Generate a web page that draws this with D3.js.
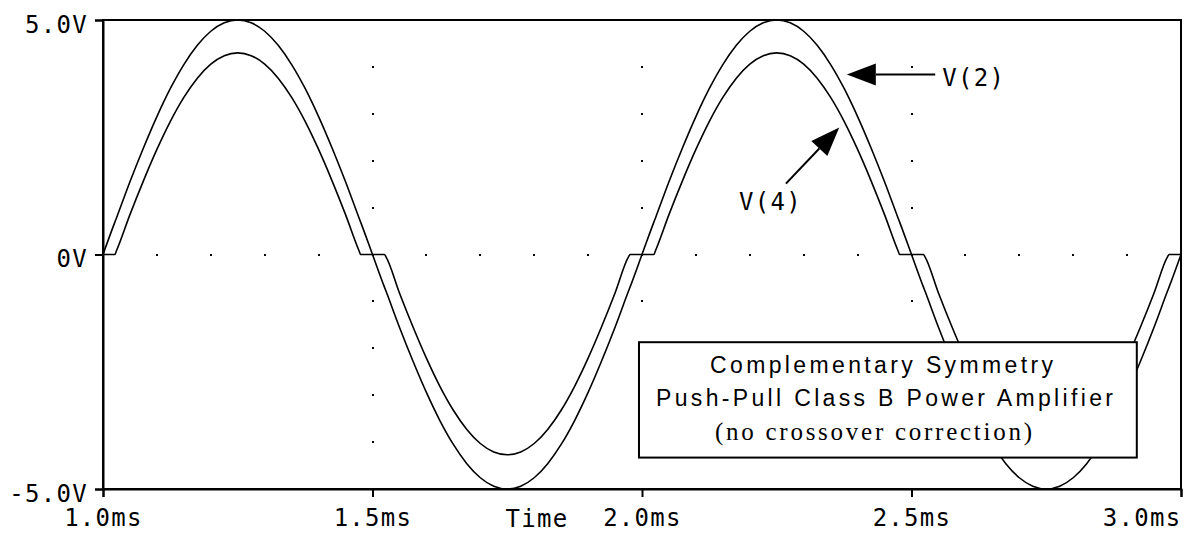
<!DOCTYPE html>
<html>
<head>
<meta charset="utf-8">
<script src="https://cdn.jsdelivr.net/npm/d3@7"></script>
<style>
  html, body { margin: 0; padding: 0; background: #fff; }
  .axis text { font-family: "DejaVu Sans Mono", monospace; font-size: 24px; letter-spacing: 1.3px; fill: #000; }
  .axis line, .axis path { stroke: #000; stroke-width: 2; }
  .trace { fill: none; stroke: #000; stroke-width: 1.6; }
  .label { font-family: "DejaVu Sans Mono", monospace; font-size: 24px; letter-spacing: 1.3px; fill: #000; }
</style>
</head>
<body>
<svg id="chart" width="1185" height="533"></svg>
<script>
// sample times (ms)
var timeMs = [
    1.000, 1.022, 1.025, 1.050, 1.075, 1.100, 1.125, 1.150, 1.175, 1.200, 1.225,
    1.250, 1.275, 1.300, 1.325, 1.350, 1.375, 1.400, 1.425, 1.450, 1.475, 1.478,
    1.500, 1.522, 1.525, 1.550, 1.575, 1.600, 1.625, 1.650, 1.675, 1.700, 1.725,
    1.750, 1.775, 1.800, 1.825, 1.850, 1.875, 1.900, 1.925, 1.950, 1.975, 1.978,
    2.000, 2.022, 2.025, 2.050, 2.075, 2.100, 2.125, 2.150, 2.175, 2.200, 2.225,
    2.250, 2.275, 2.300, 2.325, 2.350, 2.375, 2.400, 2.425, 2.450, 2.475, 2.478,
    2.500, 2.522, 2.525, 2.550, 2.575, 2.600, 2.625, 2.650, 2.675, 2.700, 2.725,
    2.750, 2.775, 2.800, 2.825, 2.850, 2.875, 2.900, 2.925, 2.950, 2.975, 2.978,
    3.000
];

// V(2) - input side (volts)
var v2 = [
    0, 0.69, 0.78, 1.55, 2.27, 2.94, 3.54, 4.05, 4.46, 4.76, 4.94,
    5.00, 4.94, 4.76, 4.46, 4.05, 3.54, 2.94, 2.27, 1.55, 0.78, 0.69,
    0, -0.69, -0.78, -1.55, -2.27, -2.94, -3.54, -4.05, -4.46, -4.76, -4.94,
    -5.00, -4.94, -4.76, -4.46, -4.05, -3.54, -2.94, -2.27, -1.55, -0.78, -0.69,
    0, 0.69, 0.78, 1.55, 2.27, 2.94, 3.54, 4.05, 4.46, 4.76, 4.94,
    5.00, 4.94, 4.76, 4.46, 4.05, 3.54, 2.94, 2.27, 1.55, 0.78, 0.69,
    0, -0.69, -0.78, -1.55, -2.27, -2.94, -3.54, -4.05, -4.46, -4.76, -4.94,
    -5.00, -4.94, -4.76, -4.46, -4.05, -3.54, -2.94, -2.27, -1.55, -0.78, -0.69,
    0
];

// V(4) - output, flat through the crossover region (volts)
var v4 = [
    0, 0, 0.08, 0.85, 1.57, 2.24, 2.84, 3.35, 3.76, 4.06, 4.24,
    4.30, 4.24, 4.06, 3.76, 3.35, 2.84, 2.24, 1.57, 0.85, 0.08, 0,
    0, 0, -0.05, -0.82, -1.54, -2.21, -2.81, -3.32, -3.73, -4.03, -4.21,
    -4.27, -4.21, -4.03, -3.73, -3.32, -2.81, -2.21, -1.54, -0.82, -0.05, 0,
    0, 0, 0.08, 0.85, 1.57, 2.24, 2.84, 3.35, 3.76, 4.06, 4.24,
    4.30, 4.24, 4.06, 3.76, 3.35, 2.84, 2.24, 1.57, 0.85, 0.08, 0,
    0, 0, -0.05, -0.82, -1.54, -2.21, -2.81, -3.32, -3.73, -4.03, -4.21,
    -4.27, -4.21, -4.03, -3.73, -3.32, -2.81, -2.21, -1.54, -0.82, -0.05, 0,
    0
];

var xTickValues = [1.0, 1.5, 2.0, 2.5, 3.0];
var xTickLabels = ["1.0ms", "1.5ms", "2.0ms", "2.5ms", "3.0ms"];
var yTickValues = [-5, 0, 5];
var yTickLabels = ["-5.0V", "0V", "5.0V"];
var boxLines = ["Complementary Symmetry", "Push-Pull Class B Power Amplifier", "(no crossover correction)"];

var svg = d3.select("#chart"),
    margin = {top: 20, right: 4, bottom: 44, left: 103},
    width = +svg.attr("width") - margin.left - margin.right,
    height = +svg.attr("height") - margin.top - margin.bottom;

var x = d3.scaleLinear().domain([1.0, 3.0]).range([0, width]),
    y = d3.scaleLinear().domain([-5, 5]).range([height, 0]);

var g = svg.append("g")
    .attr("transform", "translate(" + margin.left + "," + margin.top + ")");

// dotted grid: vertical at the inner time ticks (every 1V), horizontal at 0V (every 0.1ms)
var voltDots = d3.range(-4, 5).filter(function (v) { return v !== 0; });
var timeDots = d3.range(11, 30).map(function (k) { return k / 10; });
var dots = [];
[1.5, 2.0, 2.5].forEach(function (t) {
    voltDots.forEach(function (v) { dots.push([t, v]); });
});
timeDots.forEach(function (t) { dots.push([t, 0]); });
g.selectAll(".dot")
    .data(dots)
    .enter().append("rect")
    .attr("class", "dot")
    .attr("x", function (d) { return Math.round(x(d[0])) - 1; })
    .attr("y", function (d) { return Math.round(y(d[1])) - 1; })
    .attr("width", 2)
    .attr("height", 2)
    .attr("fill", "#000");

// traces
var line = d3.line()
    .x(function (d) { return x(d[0]); })
    .y(function (d) { return y(d[1]); })
    .curve(d3.curveMonotoneX);

[v2, v4].forEach(function (series) {
    g.append("path")
        .attr("class", "trace")
        .attr("d", line(timeMs.map(function (t, i) { return [t, series[i]]; })));
});

// frame
g.append("rect")
    .attr("x", 0).attr("y", 0)
    .attr("width", width).attr("height", height)
    .attr("fill", "none").attr("stroke", "#000").attr("stroke-width", 2);

// x axis
var xAxis = g.append("g")
    .attr("class", "axis axis--x")
    .attr("transform", "translate(0," + height + ")")
    .call(d3.axisBottom(x).tickValues(xTickValues).tickSize(8)
        .tickFormat(function (d, i) { return xTickLabels[i]; }));
xAxis.selectAll("text").attr("y", 37).attr("dy", null);
xAxis.selectAll(".tick").filter(function (d) { return d === 3.0; })
    .select("text").attr("text-anchor", "end").attr("x", 0);

g.append("text")
    .attr("class", "label")
    .attr("x", x(1.805))
    .attr("y", height + 38)
    .attr("text-anchor", "middle")
    .text("Time");

// y axis
var yAxis = g.append("g")
    .attr("class", "axis axis--y")
    .call(d3.axisLeft(y).tickValues(yTickValues).tickSize(8)
        .tickFormat(function (d, i) { return yTickLabels[i]; }));
yAxis.selectAll("text").attr("x", -15).attr("dy", "12");

// trace labels with arrows
function arrow(t0, v0, t1, v1) {
    var x0 = x(t0), y0 = y(v0), x1 = x(t1), y1 = y(v1);
    var dx = x1 - x0, dy = y1 - y0, len = Math.sqrt(dx * dx + dy * dy);
    var ux = dx / len, uy = dy / len, headLen = 29, half = 11;
    var bx = x1 - ux * headLen, by = y1 - uy * headLen;
    g.append("line")
        .attr("x1", x0).attr("y1", y0).attr("x2", bx).attr("y2", by)
        .attr("stroke", "#000").attr("stroke-width", 2);
    g.append("path")
        .attr("d", "M" + x1 + "," + y1 +
            "L" + (bx - uy * half) + "," + (by + ux * half) +
            "L" + (bx + uy * half) + "," + (by - ux * half) + "Z")
        .attr("fill", "#000");
}

arrow(2.544, 3.84, 2.380, 3.84);
g.append("text").attr("class", "label")
    .attr("x", x(2.557)).attr("y", y(3.84) + 12)
    .text("V(2)");

arrow(2.267, 1.51, 2.366, 2.71);
g.append("text").attr("class", "label")
    .attr("x", x(2.18)).attr("y", y(0.94))
    .text("V(4)");

// title box
var bx0 = x(1.9944), bx1 = x(2.918), by0 = y(-1.87), by1 = y(-4.33);
g.append("rect")
    .attr("x", bx0).attr("y", by0)
    .attr("width", bx1 - bx0).attr("height", by1 - by0)
    .attr("fill", "#fff").attr("stroke", "#000").attr("stroke-width", 2);

var boxFonts = [
    {family: "'Liberation Sans', Arial, sans-serif", size: 23, base: 31, len: 343, cx: 881.5},
    {family: "'Liberation Sans', Arial, sans-serif", size: 23, base: 64, len: 457, cx: 884.5},
    {family: "'Liberation Serif', 'Times New Roman', serif", size: 25, base: 98, len: 317, cx: 873.5}
];
boxLines.forEach(function (txt, i) {
    var f = boxFonts[i];
    g.append("text")
        .attr("x", f.cx - margin.left)
        .attr("y", by0 + f.base)
        .attr("text-anchor", "middle")
        .attr("textLength", f.len)
        .attr("lengthAdjust", "spacing")
        .style("font-family", f.family)
        .style("font-size", f.size + "px")
        .text(txt);
});
</script>
</body>
</html>
